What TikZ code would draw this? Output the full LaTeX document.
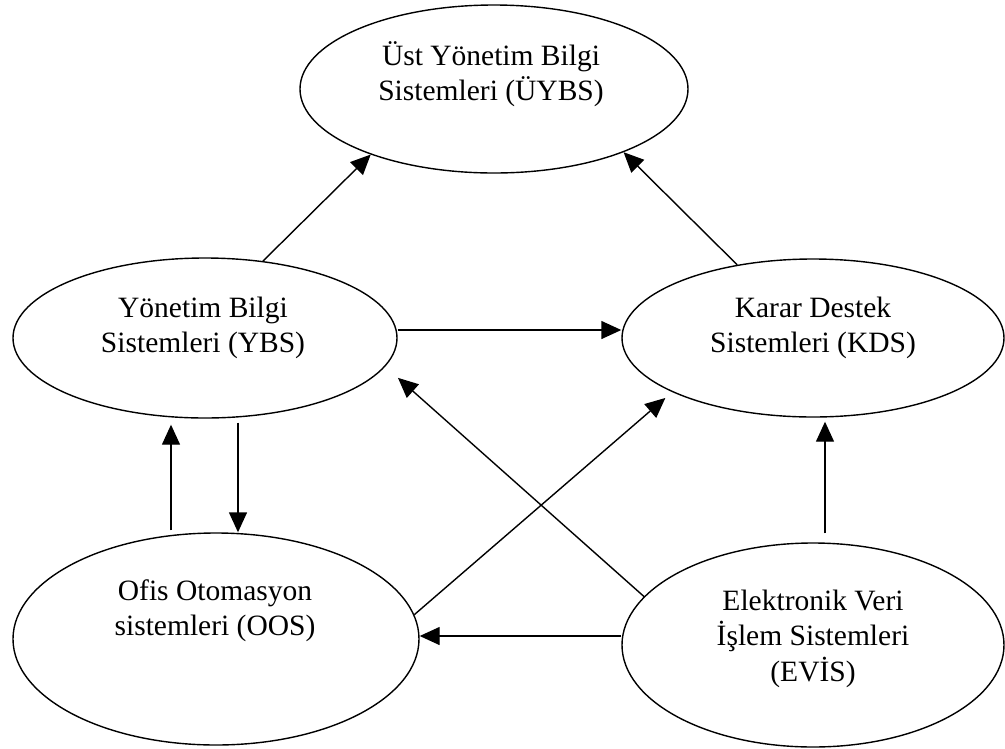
\documentclass[tikz,border=0pt]{standalone}
\usepackage{fontspec}
\setmainfont{Liberation Serif}
\usetikzlibrary{shapes.geometric,arrows.meta}

\begin{document}
\begin{tikzpicture}[x=1pt,y=-1pt,
  sys/.style={ellipse, draw, line width=1.4pt, inner sep=0pt},
  txt/.style={anchor=base, inner sep=0pt, font=\fontsize{29.5}{35}\selectfont},
  arr/.style={line width=1.4pt, -{Triangle[length=20pt,width=18pt]}}]
  \useasboundingbox (0,0) rectangle (1005,748);

  % systems
  \node[sys, minimum width=388pt, minimum height=168pt] (uybs) at (494,89) {};
  \node[sys, minimum width=384pt, minimum height=160pt] (ybs)  at (205,338) {};
  \node[sys, minimum width=382pt, minimum height=158pt] (kds)  at (813,338) {};
  \node[sys, minimum width=406pt, minimum height=212pt] (oos)  at (216,639) {};
  \node[sys, minimum width=382pt, minimum height=204pt] (evis) at (813,645) {};

  % labels
  \node[txt] (uybs-1) at (491,65)  {Üst Yönetim Bilgi};
  \node[txt] (uybs-2) at (491,100) {Sistemleri (ÜYBS)};
  \node[txt] (ybs-1)  at (203,317) {Yönetim Bilgi};
  \node[txt] (ybs-2)  at (203,352) {Sistemleri (YBS)};
  \node[txt] (kds-1)  at (813,317) {Karar Destek};
  \node[txt] (kds-2)  at (813,352) {Sistemleri (KDS)};
  \node[txt] (oos-1)  at (215,600) {Ofis Otomasyon};
  \node[txt] (oos-2)  at (215,635) {sistemleri (OOS)};
  \node[txt] (evis-1) at (813,610) {Elektronik Veri};
  \node[txt] (evis-2) at (813,645) {İşlem Sistemleri};
  \node[txt] (evis-3) at (813,681) {(EVİS)};

  % information flows
  \draw[arr] (ybs.53) -- (uybs.208);
  \draw[arr] (kds.136.5) -- (uybs.334);
  \draw[arr] ([yshift=8pt]ybs.east) -- ([yshift=8pt]kds.west);
  \draw[arr, shorten >=17pt] (evis.164.5) -- (ybs.351.2);
  \draw[arr, shorten >=9pt] (oos.7.3) -- (kds.201.5);
  \draw[arr] ([yshift=9pt]evis.west) -- ([yshift=9pt]evis.west -| oos.east);
  \draw[arr, shorten <=9pt, shorten >=4pt] ([xshift=12pt]evis.north) -- ([xshift=12pt]evis.north |- kds.south);
  \draw[arr, shorten <=2pt, shorten >=6pt] ([xshift=-34pt]ybs.south |- oos.north) -- ([xshift=-34pt]ybs.south);
  \draw[arr, shorten <=4pt] ([xshift=33pt]ybs.south) -- ([xshift=33pt]ybs.south |- oos.north);
\end{tikzpicture}
\end{document}
